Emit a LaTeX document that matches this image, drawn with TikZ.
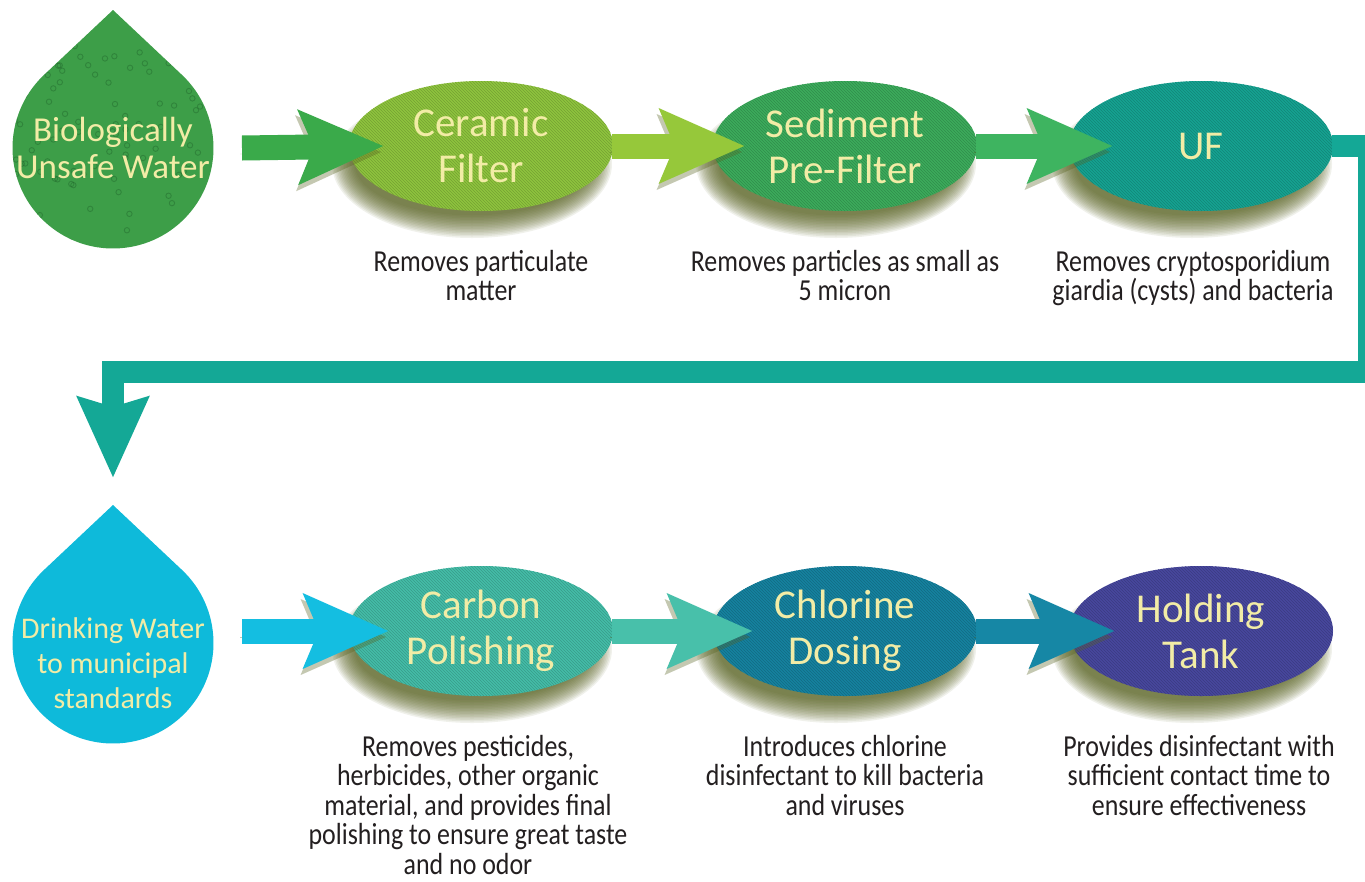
\documentclass[tikz,border=0pt]{standalone}
\usepackage{fontspec}
\setmainfont{Carlito}
\newfontfamily\narrowfont{Carlito}[FakeStretch=0.85]
\usetikzlibrary{shapes.geometric, arrows.meta, patterns, backgrounds, calc}

\definecolor{unsafegreen}{RGB}{61,158,72}
\definecolor{bubblegreen}{RGB}{30,95,40}
\definecolor{arrowgreen}{RGB}{58,170,74}
\definecolor{ceramicgreen}{RGB}{143,196,62}
\definecolor{limearrow}{RGB}{150,200,58}
\definecolor{sedimentgreen}{RGB}{60,172,92}
\definecolor{sedarrow}{RGB}{62,180,96}
\definecolor{ufteal}{RGB}{22,163,146}
\definecolor{pipeteal}{RGB}{20,168,150}
\definecolor{drinkcyan}{RGB}{14,186,218}
\definecolor{cyanarrow}{RGB}{20,190,225}
\definecolor{carbonteal}{RGB}{68,189,168}
\definecolor{carbonarrow}{RGB}{72,192,170}
\definecolor{chlorineblue}{RGB}{22,130,160}
\definecolor{chlarrow}{RGB}{22,135,165}
\definecolor{tankblue}{RGB}{72,72,158}
\definecolor{labelyellow}{RGB}{242,236,166}
\definecolor{shadowolive}{RGB}{88,98,32}
\definecolor{desctext}{RGB}{35,31,32}

\tikzset{
    stage/.style={ellipse, minimum width=264pt, minimum height=130pt, inner sep=0pt,
        align=center, text=labelyellow, font=\fontsize{41}{46}\selectfont, fill=#1,
        postaction={pattern=north west lines, pattern color=#1!82!black}},
    droptext/.style={inner sep=0pt, align=center, text=labelyellow},
    desc/.style={anchor=north, inner sep=0pt, align=center, text=desctext,
        font=\narrowfont\fontsize{30.5}{29.5}\selectfont},
    pipe/.style={draw=#1, line width=25pt, -{Stealth[length=84pt, width=72pt, inset=14pt]},
        preaction={draw=shadowolive, opacity=0.35, transform canvas={shift={(-2pt,-6pt)}}}},
    returnpipe/.style={draw=pipeteal, line width=22pt, line join=miter,
        -{Stealth[length=80pt, width=69pt, inset=9pt]}},
    bubble/.style={draw=bubblegreen, line width=0.9pt, opacity=0.4},
}

\begin{document}
\begin{tikzpicture}[x=1pt, y=1pt]
    \newcommand\posA{481}
    \newcommand\posB{845}
    \newcommand\posC{1201}
    \newcommand\rowT{-146}
    \newcommand\rowB{-631}

    \useasboundingbox (0,0) rectangle (1365,-881);

    \node[stage=ceramicgreen] (cer) at (\posA, \rowT){Ceramic\\Filter};
    \node[stage=sedimentgreen] (sed) at (\posB, \rowT){Sediment\\Pre-Filter};
    \node[stage=ufteal] (uf) at (\posC, \rowT){UF};
    \node[stage=carbonteal] (carb) at (\posA, \rowB){Carbon\\Polishing};
    \node[stage=chlorineblue] (chl) at (\posB, \rowB){Chlorine\\Dosing};
    \node[stage=tankblue] (hold) at (\posC, \rowB){Holding\\Tank};

    \node[droptext, font=\fontsize{35}{37}\selectfont] (unsafe) at (113, -148){Biologically\\Unsafe Water};
    \node[droptext, font=\fontsize{30}{35}\selectfont] (drink) at (113, -663){Drinking Water\\to municipal\\standards};

    \node[desc] (cerdesc) at (\posA, -250){Removes particulate\\matter};
    \node[desc] (seddesc) at (\posB, -250){Removes particles as small as\\5 micron};
    \node[desc] (ufdesc) at (1193, -250){Removes cryptosporidium\\giardia (cysts) and bacteria};
    \node[desc] (carbdesc) at (468, -735){Removes pesticides,\\herbicides, other organic\\material, and provides final\\polishing to ensure great taste\\and no odor};
    \node[desc] (chldesc) at (\posB, -735){Introduces chlorine\\disinfectant to kill bacteria\\and viruses};
    \node[desc] (holddesc) at (1199, -735){Provides disinfectant with\\sufficient contact time to\\ensure effectiveness};

    \coordinate (bend) at (1369, -372);
    \coordinate (dwn) at (113, -478);

    \begin{pgfonlayer}{background}
        \fill[white] (0,0) rectangle (1365,-881);
        \foreach \n in {cer, sed, uf, carb, chl, hold}
            \foreach \k in {1,...,16}
                \fill[shadowolive, opacity=0.085] ([xshift=-9pt, yshift=-18pt]\n.center) ellipse [x radius={116pt+1.5pt*\k}, y radius={50pt+1.5pt*\k}];
        \fill[unsafegreen] (113,-10) -- ($(113,-148)+(46.7:100.5)$) arc[start angle=46.7, end angle=-226.7, radius=100.5pt] -- cycle;
        \begin{scope}
            \clip (113,-10) -- ($(113,-148)+(46.7:100.5)$) arc[start angle=46.7, end angle=-226.7, radius=100.5pt] -- cycle;
            \pgfmathsetseed{11}
            \foreach \i in {1,...,110}
                \draw[bubble] ({13+200*rnd}, {-10-238*rnd}) circle (2.7pt);
        \end{scope}
        \fill[drinkcyan] (113,-505) -- ($(113,-643)+(46.7:100.5)$) arc[start angle=46.7, end angle=-226.7, radius=100.5pt] -- cycle;
    \end{pgfonlayer}

    \draw[pipe=arrowgreen] ([xshift=129pt]unsafe.center) -- ([xshift=35pt]cer.west);
    \draw[pipe=limearrow] ([xshift=-1pt]cer.east) -- ([xshift=32pt]sed.west);
    \draw[pipe=sedarrow] ([xshift=-1pt]sed.east) -- ([xshift=44pt]uf.west);
    \draw[returnpipe] ([xshift=-1pt]uf.east) -| (bend) -| (dwn);
    \draw[pipe=cyanarrow] ([shift={(129pt,32pt)}]drink.center) -- ([xshift=40pt]carb.west);
    \draw[pipe=carbonarrow] ([xshift=-1pt]carb.east) -- ([xshift=40pt]chl.west);
    \draw[pipe=chlarrow] ([xshift=-1pt]chl.east) -- ([xshift=46pt]hold.west);
\end{tikzpicture}
\end{document}
